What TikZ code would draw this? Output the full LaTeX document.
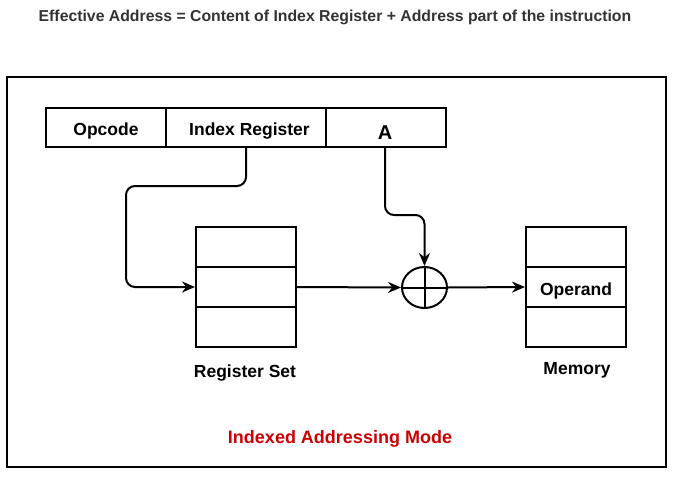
\documentclass[tikz,border=0pt]{standalone}
\usepackage{fontspec}
\setmainfont{Liberation Sans}
\usetikzlibrary{arrows.meta,shapes.geometric}
\definecolor{titlegray}{HTML}{333333}
\definecolor{modered}{HTML}{CC0000}
\begin{document}
\begin{tikzpicture}[x=1pt,y=-1pt,
  line width=2pt,
  lbl/.style={font=\bfseries\fontsize{17.5}{20}\selectfont, inner sep=0pt},
  fieldbox/.style={draw, rectangle, minimum height=39pt, inner sep=0pt},
  cellbox/.style={draw, rectangle, minimum width=100pt, minimum height=40pt, inner sep=0pt},
  conn/.style={-{Stealth[length=13pt,width=11pt]}, rounded corners=9pt}]
\useasboundingbox (0,0) rectangle (673,485);
\node[font=\bfseries\fontsize{15.8}{18}\selectfont, text=titlegray, inner sep=0pt] (title) at (335,17) {Effective Address = Content of Index Register + Address part of the instruction};
\draw (7,77) rectangle (666,467);
% instruction
\node[fieldbox, minimum width=120pt] (op) at (106,127.5) {};
\node[fieldbox, minimum width=160pt] (ix) at (246,127.5) {};
\node[fieldbox, minimum width=120pt] (a) at (386,127.5) {};
\node[lbl] (optext) at (106,131) {Opcode};
\node[lbl] (ixtext) at (249.5,131) {Index Register};
\node[font=\bfseries\fontsize{20}{22}\selectfont, inner sep=0pt] (atext) at (385,133) {A};
% register set
\node[cellbox] (r1) at (246,247) {};
\node[cellbox] (r2) at (246,287) {};
\node[cellbox] (r3) at (246,327) {};
\node[lbl] (rlabel) at (245,373) {Register Set};
% memory
\node[cellbox] (m1) at (576,247) {};
\node[cellbox] (m2) at (576,287) {};
\node[lbl] (mtext) at (576,291) {Operand};
\node[cellbox] (m3) at (576,327) {};
\node[lbl] (mlabel) at (577,370) {Memory};
% adder
\node[draw, ellipse, minimum width=45pt, minimum height=41pt, inner sep=0pt] (add) at (424.5,287.5) {};
\draw (add.north) -- (add.south);
\draw (add.west) -- (add.east);
% connectors
\coordinate (c1) at (126,186);
\draw[conn] (ix.south) |- (c1) |- (r2.west);
\coordinate (c2) at (424.5,215);
\draw[conn] (a.south -| atext) |- (c2) -- (add.north);
\draw[conn] (r2.east) -- (add.west);
\draw[conn] (add.east) -- (m2.west);
\node[font=\bfseries\fontsize{18}{20}\selectfont, text=modered, inner sep=0pt] (mode) at (340,439) {Indexed Addressing Mode};
\end{tikzpicture}
\end{document}
